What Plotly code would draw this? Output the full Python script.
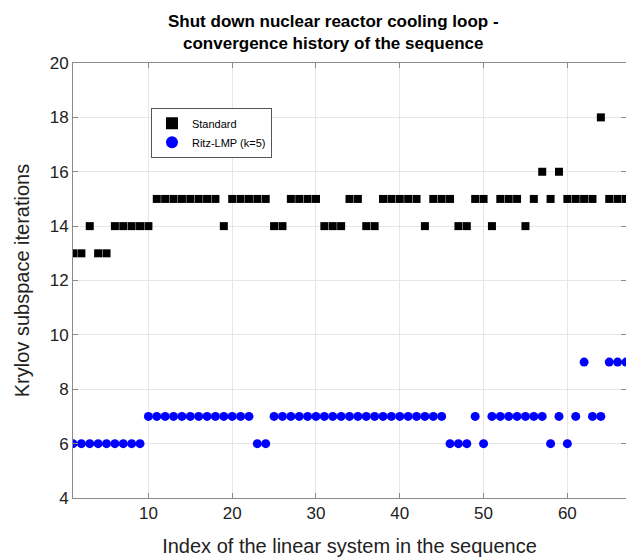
import plotly.graph_objects as go

x_index = list(range(1, 68))
standard = [13, 13, 14, 13, 13, 14, 14, 14, 14, 14,
            15, 15, 15, 15, 15, 15, 15, 15, 14, 15,
            15, 15, 15, 15, 14, 14, 15, 15, 15, 15,
            14, 14, 14, 15, 15, 14, 14, 15, 15, 15,
            15, 15, 14, 15, 15, 15, 14, 14, 15, 15,
            14, 15, 15, 15, 14, 15, 16, 15, 16, 15,
            15, 15, 15, 18, 15, 15, 15]
ritz = [6, 6, 6, 6, 6, 6, 6, 6, 6, 7,
        7, 7, 7, 7, 7, 7, 7, 7, 7, 7,
        7, 7, 6, 6, 7, 7, 7, 7, 7, 7,
        7, 7, 7, 7, 7, 7, 7, 7, 7, 7,
        7, 7, 7, 7, 7, 6, 6, 6, 7, 6,
        7, 7, 7, 7, 7, 7, 7, 6, 7, 6,
        7, 9, 7, 7, 9, 9, 9]
x_ticks = [10, 20, 30, 40, 50, 60]
y_ticks = [4, 6, 8, 10, 12, 14, 16, 18, 20]
title_lines = ["Shut down nuclear reactor cooling loop -",
               "convergence history of the sequence"]

font = "Liberation Sans, Arial, Helvetica, sans-serif"

fig = go.Figure()
fig.add_trace(go.Scatter(x=x_index, y=standard, mode="markers", name="Standard",
                         marker=dict(symbol="square", size=8, color="black")))
fig.add_trace(go.Scatter(x=x_index, y=ritz, mode="markers", name="Ritz-LMP (k=5)",
                         marker=dict(symbol="circle", size=9, color="#0000ff")))

axis_common = dict(showgrid=True, gridcolor="#e6e6e6", gridwidth=1, automargin=False,
                   showline=True, linecolor="#8a8a8a", linewidth=1, mirror="ticks",
                   ticks="inside", ticklen=5, tickcolor="#8a8a8a", zeroline=False,
                   tickfont=dict(family=font, size=17, color="#222"))

fig.update_layout(
    width=626, height=560,
    margin=dict(l=73, r=0, t=63, b=62, autoexpand=False),
    paper_bgcolor="white", plot_bgcolor="white",
    xaxis=dict(range=[1, 67], tickvals=x_ticks,
               title=dict(text="Index of the linear system in the sequence", standoff=16,
                          font=dict(family=font, size=20, color="#222")),
               **axis_common),
    yaxis=dict(range=[4, 20], tickvals=y_ticks,
               title=dict(text="Krylov subspace iterations", standoff=14,
                          font=dict(family=font, size=20, color="#222")),
               **axis_common),
    legend=dict(x=0.141, y=0.897, xanchor="left", yanchor="top",
                bgcolor="white", bordercolor="#555", borderwidth=1,
                font=dict(family=font, size=11, color="black"),
                tracegroupgap=0, itemsizing="constant"),
    showlegend=True,
)

for i, line in enumerate(title_lines):
    fig.add_annotation(text="<b>" + line + "</b>", xref="paper", yref="paper",
                       x=(333 - 73) / 553, xanchor="center",
                       y=1 + (63 - (21 + 23 * i)) / 435, yanchor="middle",
                       showarrow=False, font=dict(family=font, size=17, color="black"))

fig.write_html("out.html", config={"displayModeBar": False},
               post_script="document.body.style.margin='0';document.body.style.overflow='hidden';")
